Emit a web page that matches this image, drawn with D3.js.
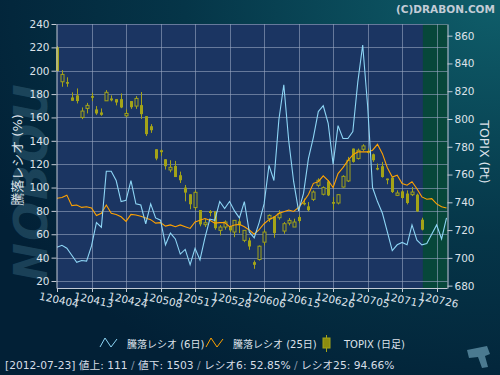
<!doctype html>
<html>
<head>
<meta charset="utf-8">
<title>騰落レシオ</title>
<script src="https://d3js.org/d3.v7.min.js"></script>
<style>
  html, body { margin: 0; padding: 0; background: #03243a; }
  svg { display: block; }
  text { font-family: "DejaVu Sans", "Noto Sans CJK JP", sans-serif; }
  .axis text { fill: #dde2ea; font-size: 10.5px; }
  .axis path, .axis line { stroke: #c4cad4; }
</style>
</head>
<body>
<svg id="chart"></svg>
<script>
var W = 500, H = 375;

// x-axis tick labels (every 7 trading days)
var tickIdx = [0, 7, 14, 21, 28, 35, 42, 49, 56, 63, 70, 77];
var tickLabels = ['120404', '120413', '120424', '120508', '120517', '120528',
  '120606', '120615', '120626', '120705', '120717', '120726'];

var leftTicks = [20, 40, 60, 80, 100, 120, 140, 160, 180, 200, 220, 240];
var rightTicks = [680, 700, 720, 740, 760, 780, 800, 820, 840, 860];

// 騰落レシオ (6日)
var ratio6 = [48.8, 50.5, 48, 42, 36, 37.5, 37, 50, 70, 66,
  114, 114, 106, 88, 89, 106, 86, 85, 69, 86,
  74, 72, 51, 61, 56, 43, 47, 34, 48, 38,
  57, 73, 72, 88, 82, 88, 80, 74, 88, 62,
  57, 70, 86, 119, 106, 158, 188, 140, 105, 80,
  95, 125, 143, 165, 170, 155, 120, 153, 142, 142,
  148, 190, 222, 170, 100, 88, 78, 62, 46, 51,
  53, 51, 68, 55, 51, 52, 60, 68, 56, 74];

// 騰落レシオ (25日)
var ratio25 = [90.8, 91.5, 93.5, 84.5, 85, 83, 83.5, 82.5, 76, 78,
  85, 78, 77, 75, 71, 77, 76.5, 75.5, 74, 72.5,
  69.5, 70, 67, 68, 66.5, 68, 66.5, 65, 70.5, 72,
  73.5, 72, 69.5, 70, 70, 66.5, 68, 68.5, 66.5, 63.6,
  60, 64, 69, 72.5, 74.5, 78, 79.3, 80.7, 79.5, 83,
  88, 94, 103.6, 105, 110, 106, 100, 112, 117, 123,
  128, 130.5, 130.7, 130.5, 132, 137, 129, 117, 109, 110.5,
  103.5, 102, 105, 99, 92, 90, 90.5, 86, 83.5, 82.5];

// TOPIX daily candles
var topixOpen = [851.6, 826.8, 826.6, 815.5, 817.0, 801.1, 807.6, 816.5, 806.9, 804.7,
  813.1, 814.8, 814.3, 814.3, 802.3, 812.9, 809.3, 810.0, 802.0, 794.8,
  778.2, 777.5, 771.0, 763.3, 766.2, 759.5, 750.6, 745.8, 736.2, 734.4,
  723.9, 733.7, 733.5, 719.8, 722.2, 722.9, 718.6, 726.3, 712.6, 712.6,
  696.9, 698.8, 711.3, 728.2, 729.9, 728.9, 719.3, 725.0, 722.2, 729.4,
  739.5, 737.1, 742.1, 752.2, 745.8, 755.1, 740.2, 739.5, 751.0, 755.4,
  778.7, 771.5, 778.2, 777.0, 774.6, 764.7, 766.0, 757.1, 757.8, 745.0,
  747.9, 746.3, 745.5, 745.5, 727.5];
var topixHigh = [852.5, 835.2, 830.0, 819.2, 822.0, 808.3, 811.6, 818.9, 809.3, 807.6,
  820.8, 817.0, 814.3, 818.4, 806.9, 812.9, 816.5, 819.4, 802.0, 796.3,
  778.2, 778.0, 771.0, 770.3, 769.8, 762.1, 752.5, 745.8, 748.6, 734.4,
  727.9, 734.4, 733.5, 723.6, 727.0, 722.9, 727.0, 728.2, 719.8, 714.5,
  698.1, 708.9, 720.5, 731.3, 729.9, 734.3, 725.8, 728.7, 728.2, 730.6,
  742.7, 740.2, 748.6, 757.3, 751.5, 755.9, 743.8, 745.5, 759.5, 772.7,
  778.7, 778.7, 781.8, 778.7, 775.1, 767.9, 769.1, 757.1, 757.8, 748.6,
  748.6, 748.6, 751.0, 746.3, 728.9];
var topixLow = [834.5, 823.2, 823.2, 813.1, 811.2, 799.9, 804.0, 812.9, 803.0, 802.3,
  813.1, 812.7, 809.8, 807.8, 801.1, 807.3, 807.3, 800.1, 787.8, 790.0,
  770.3, 773.4, 763.6, 761.6, 758.2, 753.9, 740.7, 735.0, 734.3, 722.7,
  722.2, 729.9, 720.3, 716.2, 720.3, 718.6, 714.9, 717.8, 711.3, 705.8,
  692.1, 698.1, 708.9, 725.8, 714.5, 727.5, 717.4, 723.4, 722.2, 725.0,
  737.8, 733.5, 740.9, 750.8, 745.0, 744.5, 734.7, 738.5, 750.6, 754.6,
  768.6, 770.8, 777.0, 775.1, 769.1, 763.1, 757.8, 753.0, 746.7, 744.5,
  742.7, 738.5, 744.5, 733.0, 719.8];
var topixClose = [834.5, 832.1, 825.4, 813.1, 812.9, 805.7, 809.8, 815.3, 804.0, 803.0,
  819.2, 813.4, 811.9, 808.3, 804.0, 808.5, 814.8, 803.5, 789.1, 791.9,
  771.5, 776.1, 766.0, 765.2, 758.2, 755.9, 747.0, 738.6, 747.2, 724.1,
  725.3, 732.3, 721.4, 722.2, 725.8, 719.8, 727.0, 723.4, 719.8, 708.2,
  695.0, 708.4, 718.6, 730.6, 717.8, 731.8, 724.6, 727.0, 725.8, 726.5,
  738.5, 734.3, 747.4, 755.9, 750.6, 745.0, 739.0, 745.5, 758.7, 770.3,
  769.1, 777.5, 780.6, 775.6, 770.3, 763.6, 758.2, 755.9, 747.4, 746.7,
  743.1, 739.5, 747.4, 733.5, 720.3];

var legendItems = ['騰落レシオ (6日)', '騰落レシオ (25日)', 'TOPIX (日足)'];

var plot = { left: 57, right: 447.5, top: 24, bottom: 288 };
var plotBg = '#1b3562', futureBg = '#07473a';
var blue = '#8dd5f5', orange = '#ffa200', olive = '#a3a318';

var svg = d3.select('#chart').attr('width', W).attr('height', H);
var defs = svg.append('defs');

var bg = defs.append('radialGradient').attr('id', 'bg')
  .attr('cx', 1).attr('cy', 0).attr('r', 1.15);
bg.append('stop').attr('offset', 0).attr('stop-color', '#0f5e6a');
bg.append('stop').attr('offset', 0.55).attr('stop-color', '#053548');
bg.append('stop').attr('offset', 1).attr('stop-color', '#022036');
svg.append('rect').attr('width', W).attr('height', H).attr('fill', 'url(#bg)');

// watermark logo on the left
svg.append('text')
  .attr('transform', 'translate(47,182) rotate(-90)')
  .attr('text-anchor', 'middle')
  .attr('font-size', 46).attr('font-weight', 'bold').attr('font-style', 'italic')
  .attr('letter-spacing', 2)
  .attr('fill', '#3f7189').attr('opacity', 0.4)
  .text('NOBOU');

var x = d3.scaleLinear().domain([0, 79.1]).range([plot.left, plot.right - 0.5]);
var yL = d3.scaleLinear().domain([14, 240]).range([plot.bottom, plot.top]);
var yR = d3.scaleLinear().domain([678.3, 868.4]).range([plot.bottom, plot.top]);

// plot area + future (green) zone
svg.append('rect')
  .attr('x', plot.left).attr('y', plot.top)
  .attr('width', plot.right - plot.left).attr('height', plot.bottom - plot.top)
  .attr('fill', plotBg);
svg.append('rect')
  .attr('x', x(74.2)).attr('y', plot.top)
  .attr('width', plot.right - x(74.2)).attr('height', plot.bottom - plot.top)
  .attr('fill', futureBg);

// grid
var grid = svg.append('g').attr('stroke', '#9aa6c2').attr('stroke-opacity', 0.6);
grid.selectAll('line.h').data(leftTicks).enter().append('line')
  .attr('x1', plot.left).attr('x2', plot.right)
  .attr('y1', function(d) { return Math.round(yL(d)) + 0.5; })
  .attr('y2', function(d) { return Math.round(yL(d)) + 0.5; });
grid.selectAll('line.v').data(tickIdx.slice(1)).enter().append('line')
  .attr('y1', plot.top).attr('y2', plot.bottom)
  .attr('x1', function(d) { return Math.round(x(d)) + 0.5; })
  .attr('x2', function(d) { return Math.round(x(d)) + 0.5; });

// candles
var candles = d3.range(topixOpen.length).map(function(i) {
  return { i: i, o: topixOpen[i], h: topixHigh[i], l: topixLow[i], c: topixClose[i] };
});
var cg = svg.append('g');
cg.selectAll('line').data(candles).enter().append('line')
  .attr('x1', function(d) { return Math.round(x(d.i)) + 0.5; })
  .attr('x2', function(d) { return Math.round(x(d.i)) + 0.5; })
  .attr('y1', function(d) { return yR(d.h); })
  .attr('y2', function(d) { return yR(d.l); })
  .attr('stroke', olive).attr('stroke-width', 1);
cg.selectAll('rect').data(candles).enter().append('rect')
  .attr('x', function(d) { return Math.round(x(d.i)) - 1; })
  .attr('y', function(d) { return yR(Math.max(d.o, d.c)); })
  .attr('width', 3)
  .attr('height', function(d) { return Math.max(1, Math.abs(yR(d.o) - yR(d.c))); })
  .attr('fill', function(d) { return d.c > d.o ? plotBg : olive; })
  .attr('stroke', olive).attr('stroke-width', function(d) { return d.c > d.o ? 1 : 0; });

// ratio lines
var line = d3.line()
  .x(function(d, i) { return x(i); })
  .y(function(d) { return yL(d); });
svg.append('path').datum(ratio25).attr('d', line)
  .attr('fill', 'none').attr('stroke', orange).attr('stroke-width', 1.1);
svg.append('path').datum(ratio6).attr('d', line)
  .attr('fill', 'none').attr('stroke', blue).attr('stroke-width', 1.1);

// axes
svg.append('g').attr('class', 'axis')
  .attr('transform', 'translate(' + (plot.left - 0.5) + ',0)')
  .call(d3.axisLeft(yL).tickValues(leftTicks).tickSize(5).tickSizeOuter(0).tickPadding(2));
svg.append('g').attr('class', 'axis')
  .attr('transform', 'translate(' + plot.right + ',0)')
  .call(d3.axisRight(yR).tickValues(rightTicks).tickSize(5).tickSizeOuter(0).tickPadding(2));

var xa = svg.append('g').attr('class', 'axis');
xa.append('line').attr('x1', plot.left).attr('x2', plot.right)
  .attr('y1', plot.bottom + 0.5).attr('y2', plot.bottom + 0.5);
xa.selectAll('line.t').data(tickIdx).enter().append('line')
  .attr('x1', function(d) { return Math.round(x(d)) + 0.5; })
  .attr('x2', function(d) { return Math.round(x(d)) + 0.5; })
  .attr('y1', plot.bottom).attr('y2', plot.bottom + 4);
xa.selectAll('text').data(tickIdx).enter().append('text')
  .attr('transform', function(d) { return 'translate(' + (x(d) + 2) + ',300) rotate(12)'; })
  .attr('text-anchor', 'middle').attr('dy', '0.35em')
  .text(function(d, i) { return tickLabels[i]; });

// axis titles
svg.append('text')
  .attr('transform', 'translate(22,160) rotate(-90)')
  .attr('text-anchor', 'middle').attr('font-size', 13).attr('fill', '#dde2ea')
  .text('騰落レシオ (%)');
svg.append('text')
  .attr('transform', 'translate(480,152) rotate(90)')
  .attr('text-anchor', 'middle').attr('font-size', 12.5).attr('fill', '#dde2ea')
  .text('TOPIX (Pt)');

svg.append('text')
  .attr('x', 495).attr('y', 13).attr('text-anchor', 'end')
  .attr('font-size', 10.5).attr('font-weight', 'bold').attr('fill', '#c3ccd6')
  .text('(C)DRABON.COM');

// legend
var lg = svg.append('g').attr('font-size', 10).attr('fill', '#dde2ea');
var zig = [[0, 9], [5, 0], [11, 9], [17, 1]];
lg.append('path').attr('d', d3.line()(zig.map(function(p) { return [100 + p[0], 338 + p[1]]; })))
  .attr('fill', 'none').attr('stroke', blue);
lg.append('path').attr('d', d3.line()(zig.map(function(p) { return [206 + p[0], 338 + p[1]]; })))
  .attr('fill', 'none').attr('stroke', orange);
lg.append('line').attr('x1', 326.5).attr('x2', 326.5).attr('y1', 335).attr('y2', 352)
  .attr('stroke', olive);
lg.append('rect').attr('x', 323).attr('y', 338).attr('width', 7).attr('height', 10)
  .attr('fill', '#8c8c10').attr('stroke', olive);
lg.selectAll('text').data(legendItems).enter().append('text')
  .attr('x', function(d, i) { return [127, 233, 344][i]; })
  .attr('y', 348)
  .text(function(d) { return d; });

// status line
var st = svg.append('text').attr('x', 5).attr('y', 369)
  .attr('font-size', 10.7).attr('fill', '#d6dde6');
var parts = ['[2012-07-23]  値上: 111 ', '/', ' 値下: 1503 ', '/', ' レシオ6: 52.85% ', '/', ' レシオ25: 94.66%'];
parts.forEach(function(p) {
  st.append('tspan').attr('fill', p === '/' ? '#8797a8' : '#d6dde6').text(p);
});

// small corner icon
svg.append('path')
  .attr('d', 'M467,350 L487,346 L490,354 L485,356 L488,367 L482,368 L478,357 L469,358 Z')
  .attr('fill', '#4b7a90');
</script>
</body>
</html>
